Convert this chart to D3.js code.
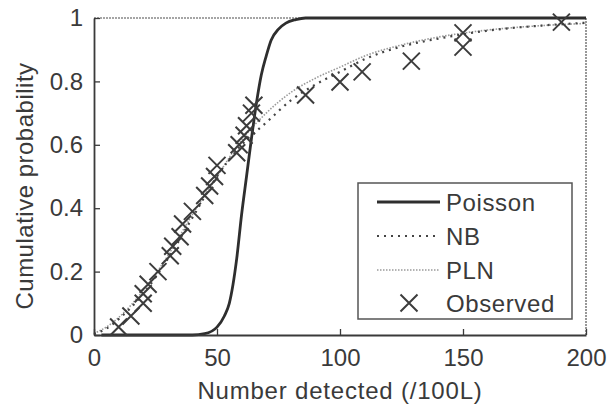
<!DOCTYPE html>
<html>
<head>
<meta charset="utf-8">
<script src="https://cdn.jsdelivr.net/npm/d3@7"></script>
<style>
  body { margin: 0; background: #fff; }
  text { font-family: "Liberation Sans", Arial, sans-serif; fill: #3a3a3a; }
</style>
</head>
<body>
<script>
// values
var xTicks = [0, 50, 100, 150, 200];
var yTicks = [0, 0.2, 0.4, 0.6, 0.8, 1];
var yTickLabels = ['0', '0.2', '0.4', '0.6', '0.8', '1'];

var poissonX = [3, 40, 45, 50, 53, 55, 58, 60, 62, 64, 66, 68, 70, 72, 75, 78, 82, 86, 90, 200];
var poissonY = [0, 0, 0.004, 0.025, 0.06, 0.1, 0.24, 0.38, 0.5, 0.62, 0.73, 0.82, 0.88, 0.93, 0.965, 0.984, 0.995, 1, 1, 1];

var nbX = [0, 5, 10, 20, 30, 40, 50, 60, 70, 80, 90, 100, 110, 125, 140, 160, 180, 200];
var nbY = [0.003, 0.02, 0.05, 0.13, 0.24, 0.37, 0.5, 0.6, 0.67, 0.74, 0.79, 0.83, 0.87, 0.91, 0.935, 0.96, 0.975, 0.985];

var plnX = [0, 5, 10, 20, 30, 40, 50, 60, 70, 80, 90, 100, 110, 125, 140, 160, 180, 200];
var plnY = [0.005, 0.025, 0.055, 0.14, 0.25, 0.38, 0.5, 0.615, 0.7, 0.765, 0.81, 0.845, 0.88, 0.915, 0.94, 0.962, 0.975, 0.983];

var obsX = [10, 15, 20, 20, 22, 26, 31, 32, 35, 36, 40, 45, 47, 49, 50, 58, 59, 61, 62, 64, 65, 86, 100, 109, 129, 150, 150, 190];
var obsY = [0.025, 0.06, 0.1, 0.13, 0.16, 0.2, 0.25, 0.28, 0.31, 0.35, 0.39, 0.44, 0.47, 0.5, 0.535, 0.575, 0.6, 0.63, 0.66, 0.7, 0.725, 0.757, 0.798, 0.83, 0.864, 0.908, 0.953, 0.987];

var legendNames = ['Poisson', 'NB', 'PLN', 'Observed'];

var width = 609, height = 409;
var margin = {left: 94, right: 23, top: 18, bottom: 74};

var svg = d3.select('body').append('svg')
  .attr('width', width)
  .attr('height', height);

var x = d3.scaleLinear().domain([0, 200]).range([margin.left, width - margin.right]);
var y = d3.scaleLinear().domain([0, 1]).range([height - margin.bottom, margin.top]);

// frame: top and right as faint dotted lines
svg.append('line')
  .attr('x1', x(0)).attr('x2', x(200)).attr('y1', y(1)).attr('y2', y(1))
  .style('stroke', '#888').style('stroke-width', 1.5).style('stroke-dasharray', '2,1');
svg.append('line')
  .attr('x1', x(200)).attr('x2', x(200)).attr('y1', y(1)).attr('y2', y(0))
  .style('stroke', '#777').style('stroke-width', 1.5).style('stroke-dasharray', '2,1');

var toPts = function(xs, ys) {
  return xs.map(function(v, i) { return [v, ys[i]]; });
};

var line = d3.line()
  .x(function(d) { return x(d[0]); })
  .y(function(d) { return y(d[1]); })
  .curve(d3.curveMonotoneX);

svg.append('path')
  .datum(toPts(plnX, plnY))
  .attr('d', line)
  .style('fill', 'none').style('stroke', '#9a9a9a')
  .style('stroke-width', 1.6).style('stroke-dasharray', '1.5,1.5');

svg.append('path')
  .datum(toPts(nbX, nbY))
  .attr('d', line)
  .style('fill', 'none').style('stroke', '#444')
  .style('stroke-width', 2.2).style('stroke-dasharray', '2,5');

svg.append('path')
  .datum(toPts(poissonX, poissonY))
  .attr('d', line)
  .style('fill', 'none').style('stroke', '#2e2e2e')
  .style('stroke-width', 2.8);

// observed crosses
var cross = function(g, cx, cy, s) {
  g.append('path')
    .attr('d', 'M' + (cx - s) + ',' + (cy - s) + 'L' + (cx + s) + ',' + (cy + s) +
               'M' + (cx - s) + ',' + (cy + s) + 'L' + (cx + s) + ',' + (cy - s))
    .style('stroke', '#3c3c3c').style('stroke-width', 2).style('fill', 'none');
};
var obsG = svg.append('g');
obsX.forEach(function(v, i) {
  cross(obsG, x(v), y(obsY[i]), 8.5);
});

// axes
var xAxis = d3.axisBottom(x).tickValues(xTicks).tickSizeInner(-6).tickSizeOuter(0).tickPadding(14);
var yAxis = d3.axisLeft(y).tickValues(yTicks).tickSizeInner(-6).tickSizeOuter(0).tickPadding(11)
  .tickFormat(function(d, i) { return yTickLabels[i]; });

var gx = svg.append('g').attr('transform', 'translate(0,' + y(0) + ')').call(xAxis);
var gy = svg.append('g').attr('transform', 'translate(' + x(0) + ',0)').call(yAxis);

[gx, gy].forEach(function(g) {
  g.select('.domain').style('stroke', '#3a3a3a').style('stroke-width', 1.8);
  g.selectAll('.tick line').style('stroke', '#3a3a3a').style('stroke-width', 1.3);
  g.selectAll('.tick text')
    .style('font-family', '"Liberation Sans", Arial, sans-serif')
    .style('font-size', '24px').style('fill', '#3a3a3a');
});

svg.append('text')
  .attr('x', (x(0) + x(200)) / 2)
  .attr('y', 399)
  .attr('text-anchor', 'middle')
  .style('font-size', '24px')
  .style('letter-spacing', '0.8px')
  .text('Number detected (/100L)');

svg.append('text')
  .attr('transform', 'translate(33,' + 186 + ') rotate(-90)')
  .attr('text-anchor', 'middle')
  .style('font-size', '24px')
  .style('letter-spacing', '0.5px')
  .text('Cumulative probability');

// legend
var lg = svg.append('g');
lg.append('rect')
  .attr('x', 358).attr('y', 183).attr('width', 214).attr('height', 136)
  .style('fill', '#fff').style('stroke', '#555').style('stroke-width', 1.5);

var rowY = [202, 236, 270, 303];
var lineStyles = [
  {stroke: '#2e2e2e', w: 2.8, dash: null},
  {stroke: '#444', w: 2.2, dash: '2,5'},
  {stroke: '#9a9a9a', w: 1.6, dash: '1.5,1.5'}
];
lineStyles.forEach(function(s, i) {
  lg.append('line')
    .attr('x1', 377).attr('x2', 440).attr('y1', rowY[i]).attr('y2', rowY[i])
    .style('stroke', s.stroke).style('stroke-width', s.w)
    .style('stroke-dasharray', s.dash);
});
cross(lg, 409, rowY[3], 8.5);

legendNames.forEach(function(n, i) {
  lg.append('text')
    .attr('x', 446).attr('y', rowY[i] + 8.5)
    .style('font-size', '24px')
    .style('letter-spacing', '0.6px')
    .text(n);
});
</script>
</body>
</html>
